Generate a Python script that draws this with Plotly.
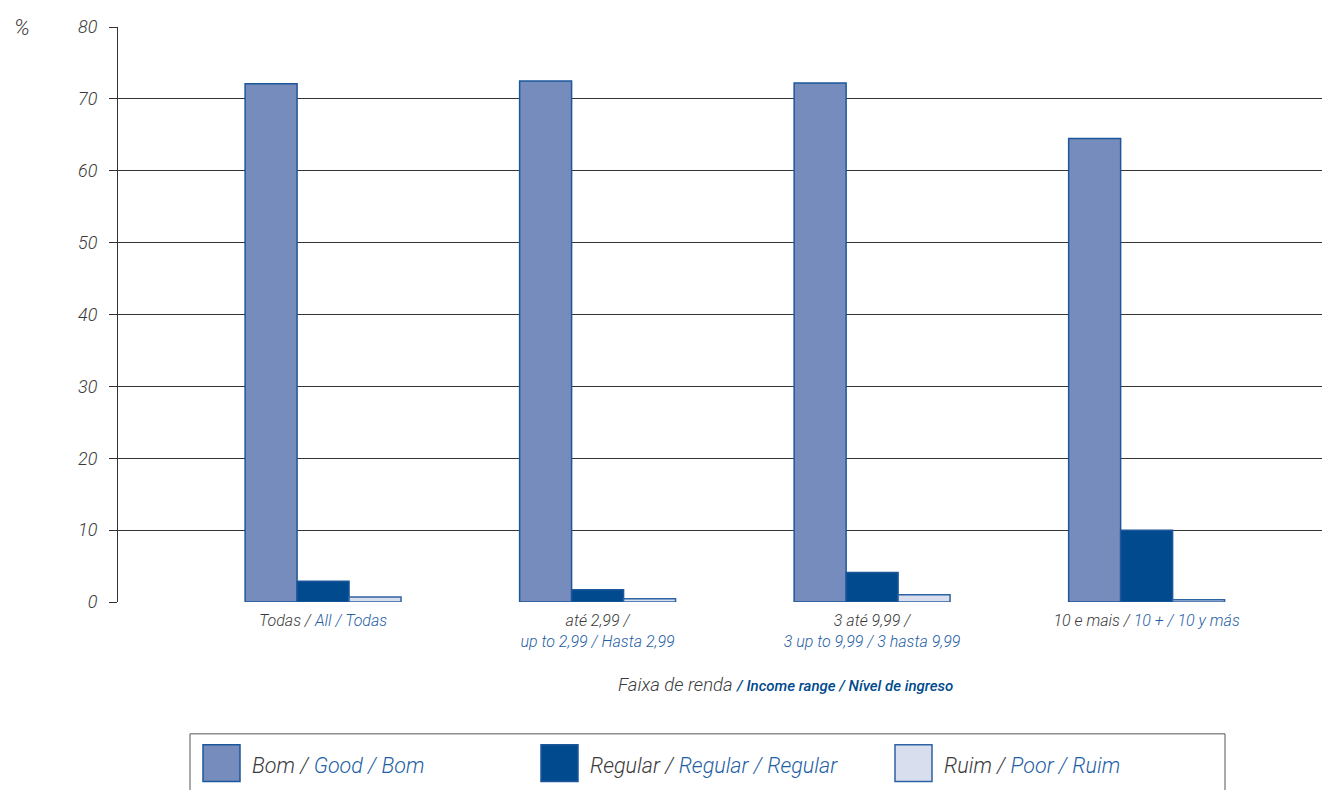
import plotly.graph_objects as go

categories = [0, 1, 2, 3]
cat_pt = ["Todas / ", "até 2,99 /", "3 até 9,99 /", "10 e mais / "]
cat_en_es = ["All / Todas", "up to 2,99 / Hasta 2,99", "3 up to 9,99 / 3 hasta 9,99", "10 + / 10 y más"]
cat_two_lines = [False, True, True, False]
bom = [72.1, 72.5, 72.2, 64.5]
regular = [2.9, 1.7, 4.1, 10.0]
ruim = [0.7, 0.45, 1.0, 0.3]
y_ticks = [0, 10, 20, 30, 40, 50, 60, 70, 80]

GREY = "#3a3a3a"
BLUE = "#1f5fa5"
DARK = "#004a8d"
FONT = "Roboto"

ticktext = []
for pt, ee, two in zip(cat_pt, cat_en_es, cat_two_lines):
    if two:
        ticktext.append(f"<span style='color:{GREY}'>{pt}</span><br><span style='color:{BLUE}'>{ee}</span>")
    else:
        ticktext.append(f"<span style='color:{GREY}'>{pt}</span><span style='color:{BLUE}'>{ee}</span>")

fig = go.Figure()
series = [
    ("Bom", bom, "#768cbd", "#1d579b"),
    ("Regular", regular, "#004a8d", "#1d579b"),
    ("Ruim", ruim, "#d9deee", "#2d62a3"),
]
for name, vals, fill, line in series:
    fig.add_trace(go.Bar(x=categories, y=vals, name=name, marker=dict(color=fill, line=dict(color=line, width=1.5)),
                         showlegend=False))

fig.update_layout(
    width=1330, height=790,
    margin=dict(l=110, r=8, t=14, b=196),
    paper_bgcolor="white", plot_bgcolor="white",
    barmode="group", bargap=0.432, bargroupgap=0,
    font=dict(family=FONT, color=GREY),
    xaxis=dict(range=[-0.747, 3.668], tickvals=categories, ticktext=ticktext, showgrid=False,
               zeroline=False, showline=False, ticks="", ticklabelstandoff=7,
               tickfont=dict(family=FONT, size=16, style="italic", weight=300)),
    yaxis=dict(range=[0, 80], tickvals=y_ticks, showgrid=True, gridcolor="#333333", gridwidth=1,
               zeroline=False, showline=True, linecolor="#333333", linewidth=1,
               ticks="outside", ticklen=8, tickcolor="#333333", ticklabelstandoff=8,
               tickfont=dict(family=FONT, size=18, style="italic", weight=300, color=GREY)),
)

W, Hp = 1330 - 118, 602 - 22
def px(x):
    return (x - 118) / W
def py(y):
    return (602 - y) / Hp

fig.add_annotation(text="%", xref="paper", yref="paper", x=px(12), y=py(23), xanchor="left", yanchor="middle",
                   showarrow=False, font=dict(family=FONT, size=22, style="italic", weight=300, color=GREY))
fig.add_annotation(
    text=(f"<span style='color:{GREY}'>Faixa de renda </span>"
          f"<span style='color:{DARK};font-size:15px;font-weight:500'>/ Income range / Nível de ingreso</span>"),
    xref="paper", yref="paper", x=px(785), y=py(686), xanchor="center", yanchor="middle", showarrow=False,
    font=dict(family=FONT, size=18.5, style="italic", weight=300, color=GREY))

shapes = [dict(type="rect", xref="paper", yref="paper", x0=px(190), x1=px(1225), y0=py(810), y1=py(735),
               line=dict(color="#555555", width=1), fillcolor="rgba(0,0,0,0)")]
legend_items = [
    (203, "Bom / ", "Good / Bom"),
    (541, "Regular / ", "Regular / Regular"),
    (895, "Ruim / ", "Poor / Ruim"),
]
for (x0, pt, ee), (name, vals, fill, line) in zip(legend_items, series):
    shapes.append(dict(type="rect", xref="paper", yref="paper", x0=px(x0), x1=px(x0 + 37), y0=py(783), y1=py(746),
                       fillcolor=fill, line=dict(color=line, width=1.5)))
    fig.add_annotation(text=f"<span style='color:{GREY}'>{pt}</span><span style='color:{BLUE}'>{ee}</span>",
                       xref="paper", yref="paper", x=px(x0 + 47), y=py(767), xanchor="left", yanchor="middle",
                       showarrow=False, font=dict(family=FONT, size=21.5, style="italic", weight=300))
fig.update_layout(shapes=shapes)

fig.write_html("out.html")
